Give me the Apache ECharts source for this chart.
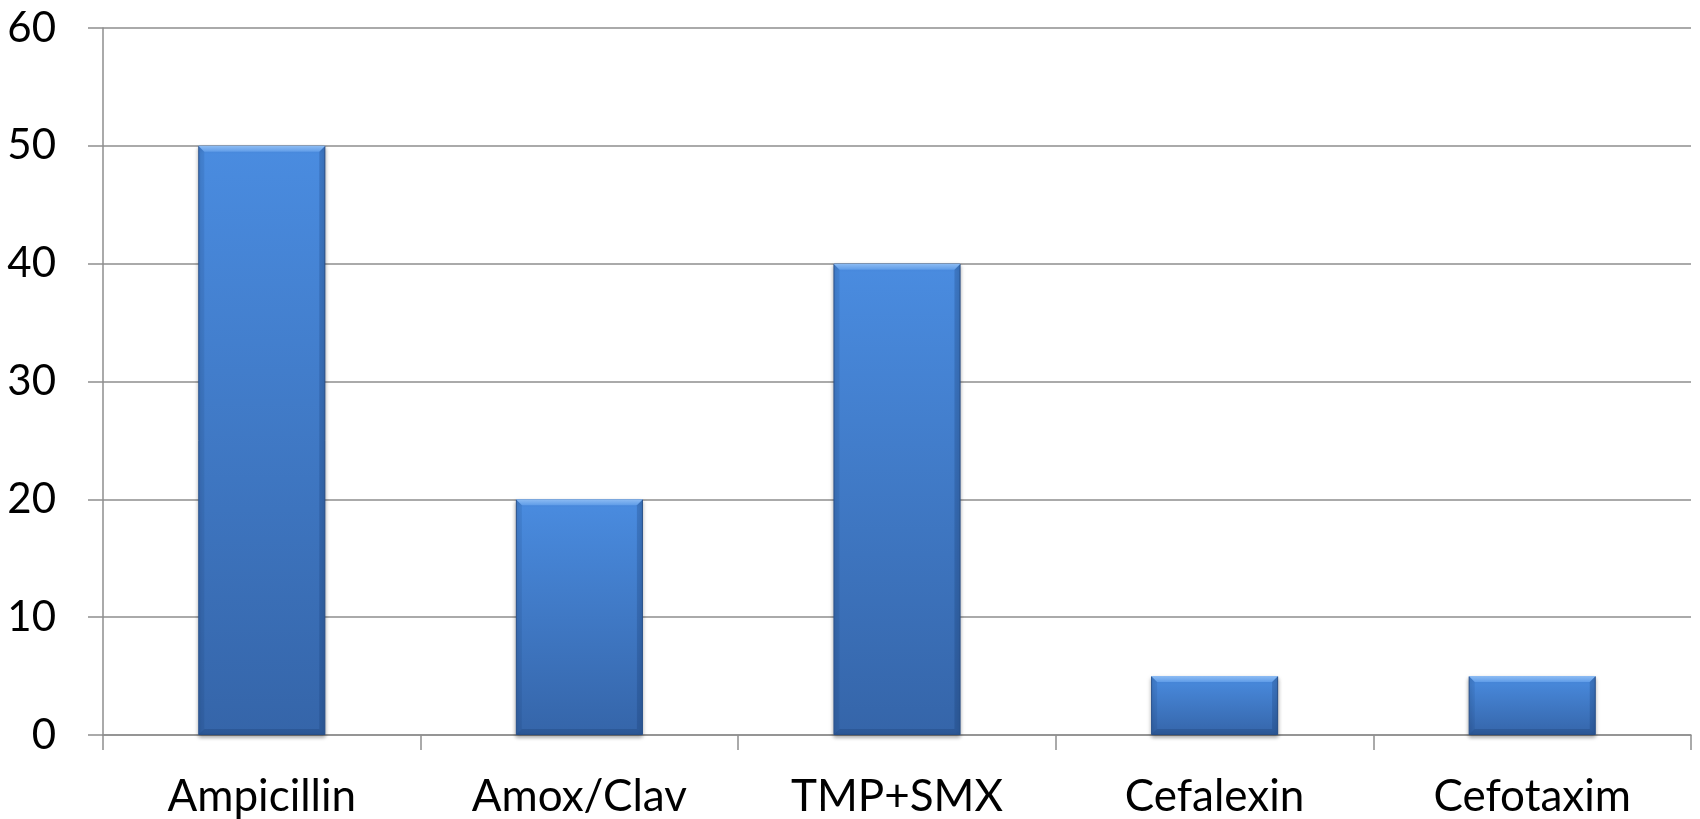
<!DOCTYPE html>
<html>
<head>
<meta charset="utf-8">
<script src="https://cdn.jsdelivr.net/npm/echarts@6/dist/echarts.min.js"></script>
<style>
  html, body { margin: 0; padding: 0; background: #ffffff; }
  #chart { width: 1700px; height: 819px; }
</style>
</head>
<body>
<div id="chart"></div>
<script>
// Resistance by antibiotic
const categories = ['Ampicillin', 'Amox/Clav', 'TMP+SMX', 'Cefalexin', 'Cefotaxim'];
const values = [50, 20, 40, 5, 5];
const yTicks = { min: 0, max: 60, interval: 10 };

const chart = echarts.init(document.getElementById('chart'));
const FONT = 'Lato';
const BAR_RATIO = 0.4;
const BEVEL = 6;

// Bevelled edges drawn on top of each bar, sized from the same axis scales
function renderBevel(params, api) {
  const idx = api.value(0);
  const top = api.coord([idx, api.value(1)]);
  const base = api.coord([idx, 0]);
  const band = api.size([1, 0])[0];
  const w = band * BAR_RATIO;
  const x0 = top[0] - w / 2, x1 = top[0] + w / 2;
  const y0 = top[1], y1 = base[1];
  const b = Math.min(BEVEL, (y1 - y0) / 3);
  return {
    type: 'group',
    children: [
      { type: 'polygon', shape: { points: [[x0, y0], [x1, y0], [x1 - b, y0 + b], [x0 + b, y0 + b]] },
        style: { fill: new echarts.graphic.LinearGradient(0, 0, 0, 1, [
          { offset: 0, color: '#8dbcf3' }, { offset: 1, color: '#5f9ce8' }]) } },
      { type: 'polygon', shape: { points: [[x0, y0], [x0 + b, y0 + b], [x0 + b, y1 - b], [x0, y1]] },
        style: { fill: 'rgba(20,50,100,0.10)' } },
      { type: 'polygon', shape: { points: [[x1, y0], [x1 - b, y0 + b], [x1 - b, y1 - b], [x1, y1]] },
        style: { fill: 'rgba(20,50,100,0.22)' } },
      { type: 'polygon', shape: { points: [[x0, y1], [x0 + b, y1 - b], [x1 - b, y1 - b], [x1, y1]] },
        style: { fill: 'rgba(20,50,100,0.25)' } }
    ]
  };
}

chart.setOption({
  animation: false,
  grid: { left: 103, right: 9, top: 28, bottom: 84, containLabel: false },
  xAxis: {
    type: 'category',
    data: categories,
    axisLine: { lineStyle: { color: '#8e8e8e', width: 1.5 } },
    axisTick: { show: true, length: 15, alignWithLabel: false, lineStyle: { color: '#8e8e8e', width: 1.5 } },
    axisLabel: { color: '#000', fontSize: 44, fontFamily: FONT, margin: 40 }
  },
  yAxis: {
    type: 'value',
    min: yTicks.min, max: yTicks.max, interval: yTicks.interval,
    axisLine: { show: true, lineStyle: { color: '#8e8e8e', width: 1.5 } },
    axisTick: { show: true, length: 15, lineStyle: { color: '#8e8e8e', width: 1.5 } },
    splitLine: { show: true, lineStyle: { color: '#8e8e8e', width: 1.5 } },
    axisLabel: { color: '#000', fontSize: 42, fontFamily: FONT, margin: 47 }
  },
  series: [{
    type: 'bar',
    data: values,
    barWidth: (BAR_RATIO * 100) + '%',
    itemStyle: {
      color: new echarts.graphic.LinearGradient(0, 0, 0, 1, [
        { offset: 0, color: '#4a8ce0' },
        { offset: 1, color: '#3565a9' }
      ]),
      borderColor: '#2d5793',
      borderWidth: 1,
      shadowColor: 'rgba(0,0,0,0.35)',
      shadowBlur: 4,
      shadowOffsetY: 2
    }
  }, {
    type: 'custom',
    data: values.map((v, i) => [i, v]),
    encode: { x: 0, y: 1 },
    renderItem: renderBevel,
    z: 3,
    silent: true
  }]
});
</script>
</body>
</html>
